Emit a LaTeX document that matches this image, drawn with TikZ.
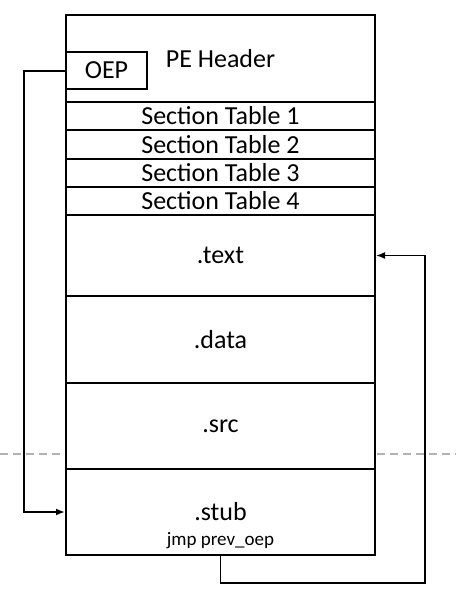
\documentclass[tikz,border=0pt]{standalone}
\usepackage{fontspec}
\setmainfont{Carlito}
\usetikzlibrary{arrows.meta,positioning}

\begin{document}
\begin{tikzpicture}[
    x=0.5pt, y=-0.5pt,
    band/.style={rectangle, draw=black, line width=1pt, fill=white, inner sep=0pt,
        minimum width=154.5pt, font=\fontsize{13}{15}\selectfont},
    conn/.style={line width=1pt, -{Latex[length=4.5pt, width=3.5pt]}}
]
\useasboundingbox (0,0) rectangle (456,596);

% Dashed marker line behind the image
\draw[gray!60, line width=0.6pt, dash pattern=on 4pt off 2.5pt] (0,454) -- (456,454);

% PE header and section tables
\node[band, minimum height=43.5pt] (pehdr) at (220.5,58.5) {PE Header};
\node[band, minimum height=14pt] (sec1) at (220.5,116) {Section Table 1};
\node[band, minimum height=14.5pt] (sec2) at (220.5,144.5) {Section Table 2};
\node[band, minimum height=14pt] (sec3) at (220.5,173) {Section Table 3};
\node[band, minimum height=14pt] (sec4) at (220.5,201) {Section Table 4};

% Sections
\node[band, minimum height=40.5pt] (text) at (220.5,255.5) {.text};
\node[band, minimum height=43.5pt] (data) at (220.5,339.5) {.data};
\node[band, minimum height=43pt] (src) at (220.5,426) {.src};
\node[band, minimum height=43pt] (stub) at (220.5,512) {.stub};
\node[font=\fontsize{9.5}{11}\selectfont] (jmp) at (220.5,541) {jmp prev\_oep};

% Entry point field
\node[band, minimum width=40.5pt, minimum height=18.5pt] (oep) at (106.5,70.5) {OEP};

% OEP redirected to the stub, stub jumps back to .text
\coordinate (lft) at (24,512);
\coordinate (rgt) at (425,583);
\draw[conn] (oep.west) -| (lft) -- (stub.west);
\draw[conn, line width=0.8pt] (stub.south) |- (rgt) |- (text.east);

\end{tikzpicture}
\end{document}
